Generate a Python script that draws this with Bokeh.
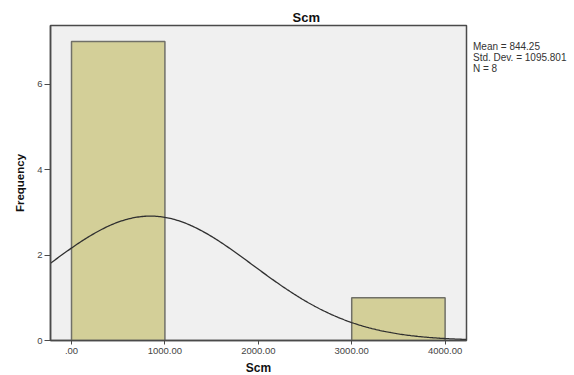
import numpy as np
from bokeh.plotting import figure
from bokeh.models import Range1d, FixedTicker, Legend, LegendItem
from bokeh.embed import file_html
from bokeh.resources import INLINE

# ---- data ----
bin_left = [0, 1000, 2000, 3000]
bin_right = [1000, 2000, 3000, 4000]
counts = [7, 0, 0, 1]
mean_val = 844.25
std_val = 1095.801
n_val = 8
bin_width = 1000
x_ticks = [0, 1000, 2000, 3000, 4000]
x_tick_labels = [".00", "1000.00", "2000.00", "3000.00", "4000.00"]
y_ticks = [0, 2, 4, 6]
y_tick_labels = ["0", "2", "4", "6"]
stats_lines = ["Mean = 844.25", "Std. Dev. = 1095.801", "N = 8"]
title_text = "Scm"
x_label = "Scm"
y_label = "Frequency"

FONT = "Liberation Sans"

p = figure(frame_width=416, frame_height=315, output_backend="svg", toolbar_location=None,
           x_range=Range1d(-225, 4229), y_range=Range1d(0, 7.375),
           min_border_left=50, min_border_right=100, min_border_top=25,
           min_border_bottom=34)

p.background_fill_color = "#f0f0f0"
p.border_fill_color = "white"
p.outline_line_color = "#4a4a4a"
p.outline_line_width = 1.5
p.xgrid.visible = False
p.ygrid.visible = False

p.title.text = title_text
p.title.text_font = FONT
p.title.text_font_size = "13px"
p.title.text_font_style = "bold"
p.title.text_color = "#111111"
p.title.align = "left"
p.title.offset = 242
p.title.standoff = 2

# bars (only non-empty bins drawn)
bl = [l for l, c in zip(bin_left, counts) if c > 0]
br = [r for r, c in zip(bin_right, counts) if c > 0]
bc = [c for c in counts if c > 0]
p.quad(left=bl, right=br, bottom=0, top=bc, fill_color="#d3cf98",
       line_color="#707068", line_width=1.5)

# fitted normal curve from displayed stats
xs = np.linspace(-225, 4229, 300)
ys = n_val * bin_width / (std_val * np.sqrt(2 * np.pi)) * np.exp(-0.5 * ((xs - mean_val) / std_val) ** 2)
p.line(xs, ys, line_color="#303030", line_width=1.3)

# axes
for ax in (p.xaxis[0], p.yaxis[0]):
    ax.axis_line_color = "#4a4a4a"
    ax.axis_line_width = 1.5
    ax.major_tick_line_color = "#4a4a4a"
    ax.major_tick_line_width = 1
    ax.minor_tick_line_color = None
    ax.major_tick_in = 0
    ax.major_label_text_font = FONT
    ax.major_label_text_font_size = "9.5px"
    ax.major_label_text_color = "#444444"
    ax.axis_label_text_font = FONT
    ax.axis_label_text_font_style = "bold"
    ax.axis_label_text_color = "#111111"

p.xaxis.ticker = FixedTicker(ticks=x_ticks)
p.xaxis.major_label_overrides = {t: l for t, l in zip(x_ticks, x_tick_labels)}
p.xaxis.major_tick_out = 4
p.xaxis.major_label_standoff = 3
p.xaxis.axis_label = x_label
p.xaxis.axis_label_text_font_size = "12px"
p.xaxis.axis_label_standoff = 4
p.yaxis.ticker = FixedTicker(ticks=y_ticks)
p.yaxis.major_label_overrides = {t: l for t, l in zip(y_ticks, y_tick_labels)}
p.yaxis.major_tick_out = 6
p.yaxis.major_label_standoff = 2
p.yaxis.axis_label = y_label
p.yaxis.axis_label_text_font_size = "11.5px"
p.yaxis.axis_label_standoff = 8

# stats box as a glyph-less legend in the right panel
dummy = p.scatter([mean_val], [0], size=0, alpha=0)
items = [LegendItem(label="\n".join(stats_lines), renderers=[dummy])]
leg = Legend(items=items, location="top_left", orientation="vertical",
             background_fill_alpha=0, border_line_color=None,
             glyph_width=1, glyph_height=8, label_height=8, spacing=0,
             label_standoff=0, padding=0, margin=6,
             title=" ", title_text_font_size="9px", title_standoff=0,
             label_text_font=FONT, label_text_font_size="10px",
             label_text_line_height=0.75,
             label_text_color="#333333", label_text_baseline="middle")
p.add_layout(leg, "right")

open("out.html", "w").write(file_html(p, INLINE))
